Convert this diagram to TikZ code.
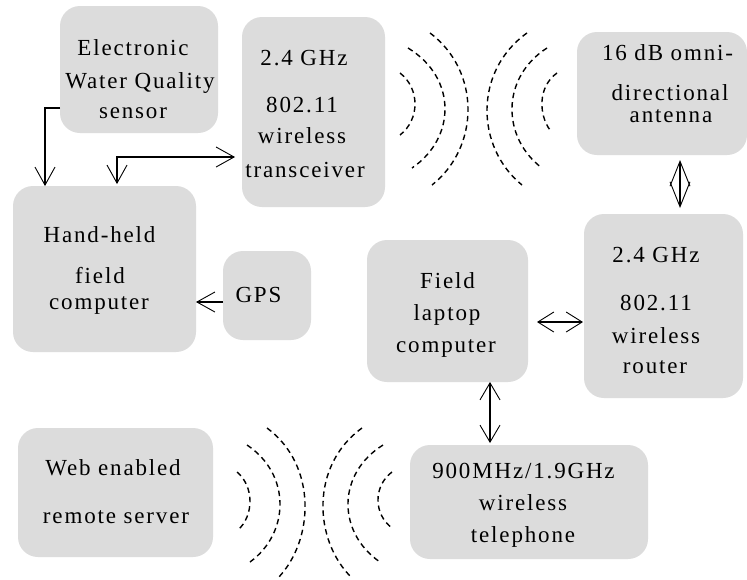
\documentclass[tikz,border=0pt]{standalone}
\usepackage{fontspec}
\setmainfont{Liberation Serif}[LetterSpace=8]
\usetikzlibrary{arrows.meta}
\definecolor{boxgray}{RGB}{220,220,220}
\tikzset{barb/.tip={Straight Barb[length=18pt, width=20pt, line width=0.9pt]}}

\begin{document}
\begin{tikzpicture}[x=1pt,y=-1pt,
  box/.style={draw=none, fill=boxgray, rounded corners=20pt, inner sep=0pt, outer sep=0pt},
  txt/.style={anchor=base, inner sep=0pt, font=\fontsize{23}{27}\selectfont},
  oneway/.style={line width=1.1pt, -{barb}},
  twoway/.style={line width=1.1pt, {barb}-{barb}},
  wave/.style={line width=1.4pt, dash pattern=on 5.5pt off 4pt}
]
% canvas
\fill[white] (0,0) rectangle (747,579);
\useasboundingbox (0,0) rectangle (747,579);

% boxes
\node[box, minimum width=158pt, minimum height=127pt] (sensor)   at (139,69.5)  {};
\node[box, minimum width=143pt, minimum height=190pt] (xcvr)     at (313.5,112) {};
\node[box, minimum width=183pt, minimum height=166pt] (handheld) at (104.5,269) {};
\node[box, minimum width=88pt,  minimum height=89pt]  (gps)      at (267,295.5) {};
\node[box, minimum width=170pt, minimum height=123pt] (antenna)  at (662,93.5)  {};
\node[box, minimum width=159pt, minimum height=184pt] (router)   at (663.5,306) {};
\node[box, minimum width=161pt, minimum height=142pt] (laptop)   at (447.5,311) {};
\node[box, minimum width=238pt, minimum height=114pt] (phone)    at (529,502)   {};
\node[box, minimum width=195pt, minimum height=129pt] (web)      at (115.5,492.5) {};

% box texts, one line each
\node[txt] (sensor-a) at (133,55)  {Electronic};
\node[txt] (sensor-b) at (140,88)  {Water Quality};
\node[txt] (sensor-c) at (133,118) {sensor};

\node[txt] (xcvr-a) at (304,65)  {2.4 GHz};
\node[txt] (xcvr-b) at (302,112) {802.11};
\node[txt] (xcvr-c) at (302,143) {wireless};
\node[txt] (xcvr-d) at (305,177) {transceiver};

\node[txt] (handheld-a) at (99.5,242) {Hand-held};
\node[txt] (handheld-b) at (100,283)  {field};
\node[txt] (handheld-c) at (99,309)   {computer};

\node[txt] (gps-a) at (258.5,302) {GPS};

\node[txt] (antenna-a) at (667.5,60) {16 dB omni-};
\node[txt] (antenna-b) at (670,100)  {directional};
\node[txt] (antenna-c) at (671,122)  {antenna};

\node[txt] (router-a) at (656,262) {2.4 GHz};
\node[txt] (router-b) at (656,310) {802.11};
\node[txt] (router-c) at (656,343) {wireless};
\node[txt] (router-d) at (655,373) {router};

\node[txt] (laptop-a) at (447.5,288) {Field};
\node[txt] (laptop-b) at (447,320)   {laptop};
\node[txt] (laptop-c) at (446,352)   {computer};

\node[txt] (phone-a) at (523.5,478) {900MHz/1.9GHz};
\node[txt] (phone-b) at (523,510)   {wireless};
\node[txt] (phone-c) at (523,542)   {telephone};

\node[txt] (web-a) at (113,475) {Web enabled};
\node[txt] (web-b) at (116,523) {remote server};

% connectors
\draw[oneway] ([yshift=-38.5pt]sensor.west) -| ([xshift=-59.5pt]handheld.north);
\draw[twoway, shorten <=2pt] ([xshift=12.5pt]handheld.north) |- ([xshift=-7pt,yshift=-45pt]xcvr.west);
\draw[oneway] ([yshift=-6.5pt]gps.west) -- ([yshift=-6.5pt]gps.west -| handheld.east);
\draw[line width=1.1pt, {barb[length=25pt]}-{barb[length=25pt]}, shorten <=5pt, shorten >=6pt]
  ([xshift=18pt]antenna.south) -- ([xshift=18pt]antenna.south |- router.north);
\draw[line width=1.1pt, {barb[length=16pt]}-{barb[length=16pt]}, shorten <=9pt, shorten >=1pt]
  ([yshift=-11pt]laptop.east) -- ([yshift=-11pt]laptop.east -| router.west);
\draw[line width=1.1pt, {barb[length=17pt]}-{barb[length=17pt]}, shorten >=2pt]
  ([xshift=42.5pt]laptop.south) -- ([xshift=42.5pt]laptop.south |- phone.north);

% radio waves between transceiver and antenna
\draw[wave] (400,73)  .. controls (420,88.5)   and (420,119.5)   .. (400,135);
\draw[wave] (408,48)  .. controls (457.3,78)   and (456,138)     .. (412,168);
\draw[wave] (430,33)  .. controls (480.7,71)   and (480,147)     .. (432,185);
\draw[wave] (527,33)  .. controls (473.7,71)   and (475.3,147)   .. (522,185);
\draw[wave] (547,48)  .. controls (500.3,78)   and (502,138)     .. (542,168);
\draw[wave] (557,73)  .. controls (537,87.25)  and (539.3,115.75) .. (550,130);

% radio waves between remote server and telephone
\draw[wave] (237,472) .. controls (254.3,486.5) and (254,515.5)   .. (238,530);
\draw[wave] (247,445) .. controls (291,474.25)  and (290,532.75)  .. (250,562);
\draw[wave] (267,428) .. controls (317.7,465.5) and (314,540.5)   .. (278,578);
\draw[wave] (362,428) .. controls (310,465.5)   and (313.3,540.5) .. (352,578);
\draw[wave] (383,445) .. controls (336.3,474.25) and (337.3,532.75) .. (380,562);
\draw[wave] (392,472) .. controls (373.3,486)   and (373.3,514)   .. (392,528);
\end{tikzpicture}
\end{document}
